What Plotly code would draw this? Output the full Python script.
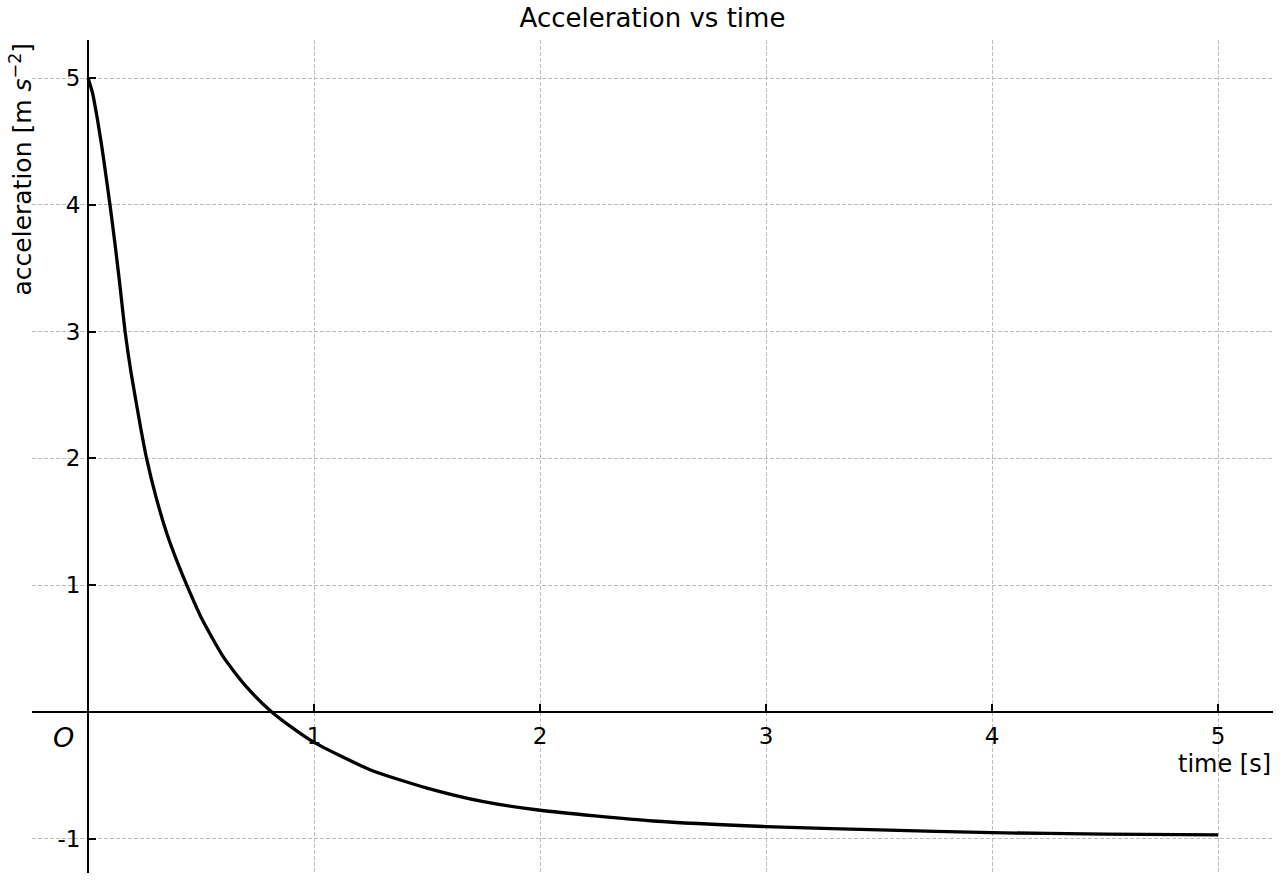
import plotly.graph_objects as go

# Data
time_s = [0, 0.02, 0.04, 0.06, 0.08, 0.097, 0.12, 0.14, 0.164, 0.19, 0.23, 0.259,
          0.3, 0.35, 0.4, 0.437, 0.5, 0.6, 0.7, 0.813, 0.9, 1.0, 1.25, 1.5, 1.75,
          2.0, 2.5, 3.0, 3.5, 4.0, 4.5, 5.0]
accel = [5.0, 4.88, 4.69, 4.47, 4.22, 4.0, 3.68, 3.38, 3.0, 2.68, 2.27, 2.0,
         1.70, 1.40, 1.16, 1.0, 0.747, 0.43, 0.20, 0.0, -0.12, -0.24, -0.457, -0.60, -0.707,
         -0.775, -0.86, -0.904, -0.93, -0.952, -0.963, -0.97]
x_ticks = [1, 2, 3, 4, 5]
y_ticks = [-1, 1, 2, 3, 4, 5]
x_tick_text = ["1", "2", "3", "4", "5"]
y_tick_text = ["-1", "1", "2", "3", "4", "5"]

x_range = [-0.248, 5.243]
y_range = [-1.27, 5.30]

FONT = "DejaVu Sans"

fig = go.Figure()
fig.add_trace(go.Scatter(
    x=time_s, y=accel, mode="lines",
    line=dict(color="black", width=3.3, shape="spline", smoothing=0.6),
    showlegend=False, hoverinfo="skip",
))

xpos = (0 - y_range[0]) / (y_range[1] - y_range[0])
ypos = (0 - x_range[0]) / (x_range[1] - x_range[0])

fig.update_layout(
    width=1280, height=880,
    margin=dict(l=32, r=7, t=40, b=7),
    paper_bgcolor="white", plot_bgcolor="white",
    font=dict(family=FONT, size=23, color="black"),
    title=dict(text="Acceleration vs time", x=0.5, xref="paper", xanchor="center",
               y=1 - 18 / 880, yref="container", yanchor="middle",
               font=dict(family=FONT, size=26, color="black")),
    xaxis=dict(
        range=x_range, anchor="free", position=xpos,
        tickmode="array", tickvals=x_ticks, ticktext=x_tick_text,
        ticks="inside", ticklen=7, tickwidth=1.5, tickcolor="black",
        showline=True, linecolor="black", linewidth=2,
        showgrid=True, gridcolor="#bdbdbd", gridwidth=1, griddash="4px,2px",
        zeroline=False, tickfont=dict(family=FONT, size=23, color="black"),
        ticklabelstandoff=3,
    ),
    yaxis=dict(
        range=y_range, anchor="free", position=ypos,
        tickmode="array", tickvals=y_ticks, ticktext=y_tick_text,
        ticks="inside", ticklen=7, tickwidth=2, tickcolor="black",
        showline=True, linecolor="black", linewidth=2,
        showgrid=True, gridcolor="#bdbdbd", gridwidth=1, griddash="4px,2px",
        zeroline=False, tickfont=dict(family=FONT, size=23, color="black"),
        ticklabelstandoff=2,
    ),
    annotations=[
        dict(text="time [s]", xref="paper", x=1, xanchor="right",
             yref="y", y=0, yanchor="top", yshift=-36, showarrow=False,
             font=dict(family=FONT, size=24, color="black")),
        dict(text="acceleration [m <i>s</i><sup>−2</sup>]", textangle=-90,
             xref="paper", x=(21 - 32) / 1241, xanchor="center",
             yref="paper", y=1, yanchor="top", yshift=-1, showarrow=False,
             font=dict(family=FONT, size=25, color="black")),
        dict(text="<i>O</i>", xref="x", x=0, xanchor="right", xshift=-12,
             yref="y", y=0, yanchor="top", yshift=-8, showarrow=False,
             font=dict(family=FONT, size=27, color="black")),
    ],
)

fig.write_html("out.html", config={"displayModeBar": False})
